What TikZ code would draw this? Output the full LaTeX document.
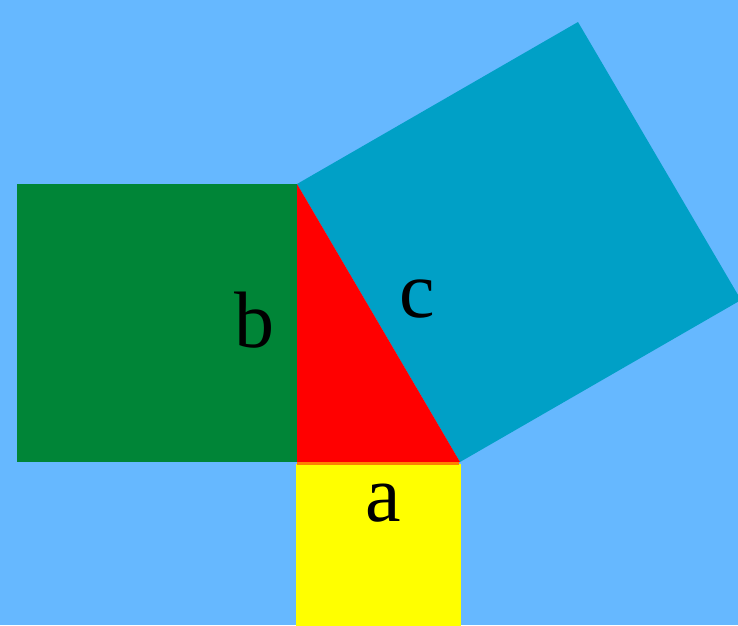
\documentclass[tikz,border=0pt]{standalone}
\usepackage{fontspec}
\usetikzlibrary{calc}
\setmainfont{Liberation Serif}
\definecolor{bgblue}{RGB}{102,184,255}
\definecolor{sqgreen}{RGB}{0,133,55}
\definecolor{sqcyan}{RGB}{0,160,198}
\definecolor{trired}{RGB}{255,0,0}
\definecolor{sqyellow}{RGB}{255,255,0}
\definecolor{edgeorange}{RGB}{255,128,0}
\tikzset{lbl/.style={font=\fontsize{80}{80}\selectfont, text=black, inner sep=0pt}}
\begin{document}
\begin{tikzpicture}[x=1pt,y=-1pt]
\fill[bgblue] (0,0) rectangle (738,625);
\useasboundingbox (0,0) rectangle (738,625);
\coordinate (A) at (297,184);
\coordinate (B) at (297,462);
\coordinate (C) at (460,462);
% green square on b
\fill[sqgreen] (17,184) rectangle (B);
% yellow square on a
\fill[sqyellow] (296,464) rectangle (461,626);
% cyan square on c
\fill[sqcyan] (A) -- (C) -- ($(C)+(281,-162)$) -- ($(A)+(281,-162)$) -- cycle;
% red triangle
\fill[trired] (A) -- (B) -- (C) -- cycle;
\fill[edgeorange] (297,462) rectangle (459,465);
\node[lbl, anchor=base] (lb) at (254.5,347) {b};
\node[lbl, anchor=base] (lc) at (417.5,317) {c};
\node[lbl, anchor=base] (la) at (383.5,521) {a};
\end{tikzpicture}
\end{document}
